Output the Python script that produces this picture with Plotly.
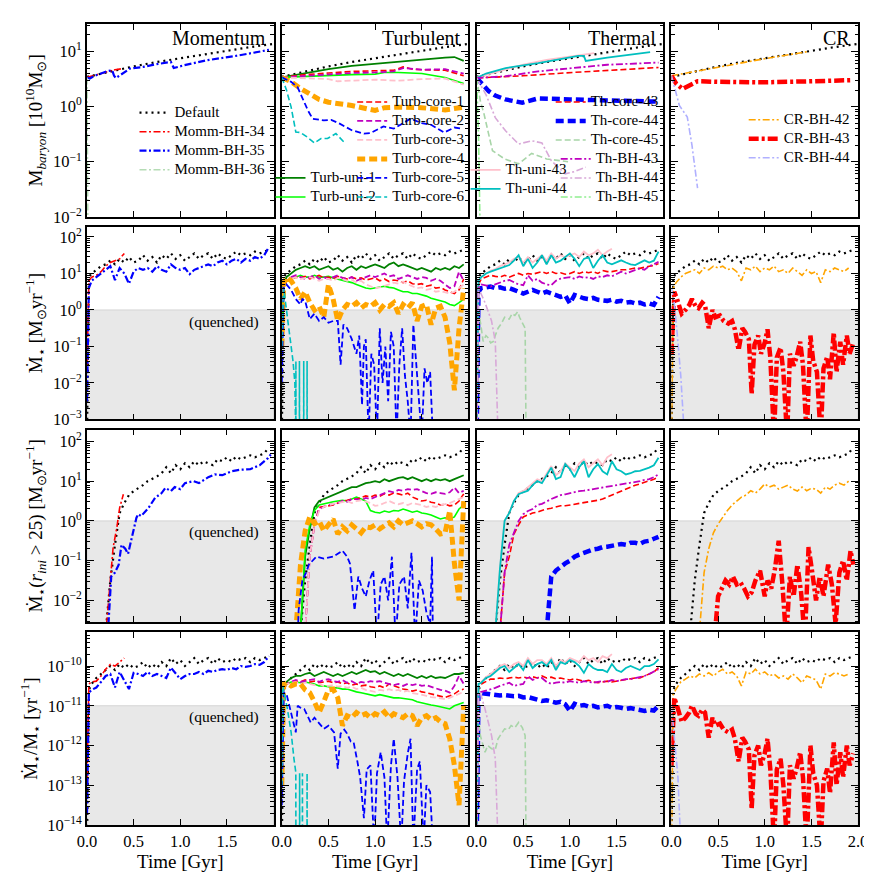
import plotly.graph_objects as go
from plotly.subplots import make_subplots

# all series values are log10 of the plotted quantity

# common time grid [Gyr] for the star formation rows
T = [0.0, 0.02, 0.05, 0.1, 0.15, 0.2, 0.25, 0.3, 0.35, 0.4, 0.45,
     0.5, 0.55, 0.6, 0.65, 0.7, 0.75, 0.8, 0.85, 0.9, 0.95,
     1.0, 1.05, 1.1, 1.15, 1.2, 1.25, 1.3, 1.35, 1.4, 1.45,
     1.5, 1.55, 1.6, 1.65, 1.7, 1.75, 1.8, 1.85, 1.9, 1.95]
T_040 = T[:10]
T_145 = T[:31]
T_190 = T[:40]

# ---- row 1: M_baryon [1e10 Msun] ----
mb_default_t = [0, 0.25, 0.5, 0.75, 1.0, 1.25, 1.5, 1.75, 2.0]
mb_default = [0.54, 0.64, 0.73, 0.81, 0.88, 0.95, 1.02, 1.08, 1.14]
mb_momm34_t = [0, 0.1, 0.2, 0.3, 0.38]
mb_momm34 = [0.53, 0.58, 0.63, 0.67, 0.69]
mb_momm35_t = [0, 0.03, 0.07, 0.15, 0.21, 0.27, 0.29, 0.31, 0.38, 0.46, 0.6, 0.74, 0.9, 0.93, 1.04, 1.28, 1.63, 1.95]
mb_momm35 = [0.53, 0.51, 0.55, 0.6, 0.64, 0.66, 0.56, 0.52, 0.6, 0.69, 0.72, 0.77, 0.81, 0.70, 0.75, 0.84, 0.93, 1.03]
mb_momm36_t = [0, 0.005, 0.01]
mb_momm36 = [0.53, -0.5, -2.5]

mb_uni1_t = [0, 0.25, 0.5, 0.75, 1.0, 1.25, 1.5, 1.75, 1.85, 1.95]
mb_uni1 = [0.53, 0.61, 0.68, 0.74, 0.78, 0.81, 0.85, 0.89, 0.9, 0.83]
mb_uni2_t = [0, 0.25, 0.5, 0.75, 1.0, 1.1, 1.25, 1.5, 1.75, 1.95]
mb_uni2 = [0.53, 0.55, 0.57, 0.58, 0.59, 0.62, 0.62, 0.6, 0.53, 0.42]
mb_core1_t = [0, 0.25, 0.5, 0.75, 1.0, 1.2, 1.3, 1.4, 1.5, 1.75, 1.95]
mb_core1 = [0.53, 0.58, 0.61, 0.64, 0.65, 0.66, 0.72, 0.68, 0.67, 0.66, 0.56]
mb_core2_t = [0, 0.25, 0.5, 0.75, 1.0, 1.2, 1.3, 1.5, 1.75, 1.95]
mb_core2 = [0.53, 0.56, 0.59, 0.61, 0.62, 0.64, 0.7, 0.67, 0.68, 0.6]
mb_core3_t = [0, 0.25, 0.5, 0.6, 0.75, 1.0, 1.25, 1.5, 1.75, 1.95]
mb_core3 = [0.53, 0.51, 0.5, 0.46, 0.47, 0.49, 0.47, 0.5, 0.51, 0.4]
mb_core4_t = [0, 0.1, 0.2, 0.3, 0.4, 0.5, 0.75, 1.0, 1.1, 1.25, 1.5, 1.75, 1.95]
mb_core4 = [0.53, 0.45, 0.33, 0.22, 0.13, 0.08, 0.02, -0.07, -0.02, -0.01, -0.02, -0.06, -0.01]
mb_core5_t = [0, 0.1, 0.17, 0.28, 0.33, 0.45, 0.53, 0.62, 0.75, 0.88, 0.95, 1.02, 1.09, 1.2, 1.3, 1.38, 1.5, 1.6, 1.74, 1.85, 1.94]
mb_core5 = [0.53, 0.45, 0.35, -0.07, -0.22, -0.25, -0.24, -0.31, -0.43, -0.49, -0.48, -0.42, -0.36, -0.4, -0.3, -0.22, -0.3, -0.33, -0.47, -0.38, -0.4]
mb_core6_t = [0, 0.05, 0.1, 0.15, 0.2, 0.27, 0.35, 0.42, 0.49, 0.58, 0.68]
mb_core6 = [0.53, 0.3, -0.01, -0.46, -0.47, -0.55, -0.66, -0.58, -0.58, -0.49, -0.67]

mb_thuni43_t = [0, 0.25, 0.5, 0.75, 1.0, 1.26]
mb_thuni43 = [0.53, 0.65, 0.76, 0.85, 0.91, 0.97]
mb_thuni44_t = [0, 0.1, 0.31, 0.66, 1.09, 1.15, 1.17, 1.25, 1.4, 1.86]
mb_thuni44 = [0.52, 0.6, 0.70, 0.79, 0.92, 0.92, 0.83, 0.85, 0.89, 0.99]
mb_thbh43_t = [0, 0.3, 0.66, 1.0, 1.4, 1.95]
mb_thbh43 = [0.52, 0.55, 0.64, 0.70, 0.76, 0.80]
mb_thcore43_t = [0, 0.5, 1.03, 1.5, 1.95]
mb_thcore43 = [0.52, 0.56, 0.62, 0.67, 0.71]
mb_thcore44_t = [0, 0.05, 0.13, 0.2, 0.31, 0.49, 0.66, 1.0, 1.4, 1.95]
mb_thcore44 = [0.52, 0.42, 0.28, 0.2, 0.13, 0.07, 0.15, 0.13, 0.11, 0.09]
mb_thbh44_t = [0, 0.1, 0.2, 0.31, 0.45, 0.59, 0.7, 0.8, 0.95, 1.05, 1.17]
mb_thbh44 = [0.52, 0.22, -0.2, -0.44, -0.68, -0.62, -0.66, -0.98, -1.22, -1.18, -1.1]
mb_thcore45_t = [0, 0.04, 0.08, 0.17, 0.3, 0.45, 0.59, 0.75, 0.98]
mb_thcore45 = [0.52, 0.1, -0.14, -0.8, -0.95, -1.04, -0.85, -0.95, -1.0]
mb_thbh45_t = [0, 0.02, 0.04]
mb_thbh45 = [0.52, -0.5, -2.5]

mb_cr42_t = [0, 0.5, 1.0, 1.47]
mb_cr42 = [0.56, 0.72, 0.87, 1.0]
mb_cr43_t = [0, 0.05, 0.12, 0.2, 0.28, 0.5, 0.98, 1.5, 1.92]
mb_cr43 = [0.56, 0.42, 0.32, 0.38, 0.46, 0.45, 0.44, 0.46, 0.48]
mb_cr44_t = [0, 0.04, 0.085, 0.17, 0.22, 0.28]
mb_cr44 = [0.56, 0.3, 0.02, -0.19, -0.7, -1.48]

# ---- row 2: SFR [Msun/yr] ----
sfr_default = [-3.5, 0.9, 1.0, 1.1, 1.2, 1.25, 1.35, 1.25, 1.4, 1.3, 1.45,
               1.3, 1.35, 1.5, 1.35, 1.45, 1.3, 1.5, 1.4, 1.55, 1.4,
               1.5, 1.35, 1.45, 1.55, 1.4, 1.5, 1.55, 1.4, 1.55, 1.45,
               1.4, 1.5, 1.6, 1.5, 1.55, 1.5, 1.6, 1.55, 1.6, 1.65]
sfr_momm34 = [-1.5, 0.8, 0.9, 0.95, 1.05, 1.2, 1.3, 1.35, 1.4, 1.55]
sfr_momm35 = [-2.5, 0.6, 0.8, 0.9, 1.0, 1.1, 1.2, 0.82, 1.15, 1.0, 0.72,
              1.05, 1.15, 1.1, 1.15, 1.05, 1.2, 1.1, 1.05, 1.25, 1.15,
              1.1, 1.15, 0.98, 1.1, 1.15, 1.2, 1.25, 1.2, 1.3, 1.35,
              1.25, 1.35, 1.4, 1.3, 1.4, 1.35, 1.45, 1.4, 1.5, 1.72]
sfr_uni1 = [-1.0, 0.7, 0.9, 1.0, 1.1, 1.15, 1.2, 1.15, 1.2, 1.1, 1.15,
            1.2, 1.1, 1.15, 1.05, 1.15, 1.2, 1.1, 1.2, 1.15, 1.2,
            1.25, 1.2, 1.15, 1.25, 1.3, 1.2, 1.25, 1.2, 1.15, 1.1,
            1.15, 1.1, 1.05, 1.15, 1.1, 1.15, 1.1, 1.2, 1.15, 1.25]
sfr_uni2 = [-1.0, 0.6, 0.8, 0.85, 0.9, 0.95, 0.9, 0.9, 0.95, 0.9, 0.9,
            0.92, 0.88, 0.85, 0.82, 0.8, 0.75, 0.7, 0.65, 0.6, 0.58,
            0.6, 0.62, 0.65, 0.62, 0.6, 0.55, 0.5, 0.5, 0.45, 0.45,
            0.42, 0.38, 0.32, 0.28, 0.25, 0.22, 0.15, 0.12, 0.2, 0.3]
sfr_core1 = [-1.0, 0.6, 0.8, 0.85, 0.9, 0.88, 0.92, 0.85, 0.9, 0.95, 0.88,
             0.9, 0.85, 0.92, 0.88, 0.85, 0.9, 0.85, 0.88, 0.82, 0.85,
             0.88, 0.8, 0.85, 0.78, 0.82, 0.8, 0.75, 0.8, 0.72, 0.7,
             0.72, 0.65, 0.68, 0.6, 0.62, 0.55, 0.5, 0.45, 0.55, 0.85]
sfr_core2 = [-1.0, 0.6, 0.8, 0.9, 0.95, 0.9, 0.85, 0.9, 0.95, 0.85, 0.9,
             0.85, 0.9, 0.95, 0.88, 0.85, 0.9, 0.8, 0.85, 0.9, 0.95,
             0.9, 0.95, 1.0, 0.92, 0.95, 0.85, 0.9, 0.95, 0.9, 0.85,
             0.9, 0.88, 0.8, 0.85, 0.8, 0.7, 0.6, 0.65, 1.05, 0.8]
sfr_core3 = [-1.0, 0.6, 0.8, 0.85, 0.9, 0.85, 0.88, 0.9, 0.85, 0.8, 0.85,
             0.85, 0.8, 0.88, 0.85, 0.8, 0.82, 0.75, 0.8, 0.7, 0.65,
             0.6, 0.62, 0.65, 0.7, 0.75, 0.72, 0.78, 0.7, 0.65, 0.6,
             0.62, 0.55, 0.58, 0.5, 0.52, 0.48, 0.45, 0.5, 0.6, 0.7]
sfr_core4 = [-1.0, 0.7, 0.9, 0.8, 0.6, 0.3, 0.5, 0.2, 0.0, 0.1, -0.2,
             0.7, 0.3, -0.3, 0.0, 0.15, 0.1, 0.2, 0.05, 0.15, 0.1,
             0.2, 0.0, 0.15, 0.1, 0.2, -0.1, 0.15, 0.05, 0.2, -0.3,
             0.1, 0.15, -0.4, 0.05, 0.1, -0.2, -0.9, -2.2, -0.5, 0.6]
sfr_core5_t = [0, 0.02, 0.05, 0.1, 0.15, 0.2, 0.22, 0.25, 0.3, 0.35,
               0.4, 0.45, 0.5, 0.55, 0.6, 0.63, 0.66, 0.7, 0.75, 0.8,
               0.83, 0.86, 0.88, 0.9, 0.93, 0.96, 0.99, 1.02, 1.05, 1.08,
               1.11, 1.14, 1.17, 1.2, 1.23, 1.26, 1.29, 1.32, 1.35, 1.38,
               1.41, 1.44, 1.47, 1.5, 1.53, 1.56, 1.59, 1.62]
sfr_core5 = [-2.0, 0.6, 0.7, 0.55, 0.3, 0.15, 0.3, 0.25, -0.25, -0.1,
             -0.3, -0.2, -0.35, -0.3, -0.3, -1.5, -0.4, -0.5, -0.8, -1.2,
             -0.7, -2.6, -1.0, -0.8, -3.5, -1.2, -1.5, -3.5, -0.5, -2.0,
             -1.0, -2.5, -0.6, -1.0, -3.5, -1.5, -0.5, -1.8, -2.5, -3.5,
             -0.4, -1.6, -2.5, -3.5, -1.6, -2.0, -1.7, -3.5]
sfr_core6_t = [0, 0.02, 0.05, 0.08, 0.1, 0.12, 0.14, 0.15, 0.151, 0.152,
               0.188, 0.189, 0.19, 0.234, 0.235, 0.236, 0.27, 0.271, 0.272]
sfr_core6 = [-1.0, 0.6, 0.0, -0.6, -1.0, -1.4, -2.0, -3.5, -1.4, -3.5,
             -3.5, -1.4, -3.5, -3.5, -1.4, -3.5, -3.5, -1.4, -3.5]

sfr_thuni44 = [-3.5, 0.8, 0.9, 1.0, 1.05, 1.1, 1.15, 1.2, 1.23, 1.35, 1.5,
               1.2, 1.4, 1.15, 1.3, 1.5, 1.25, 1.5, 1.3, 1.35, 1.45,
               1.55, 1.4, 1.2, 1.4, 1.45, 1.15, 1.35, 1.5, 1.3, 1.25,
               1.3, 1.36, 1.3, 1.25, 1.23, 1.3, 1.36, 1.3, 1.35, 1.6]
sfr_thuni43 = [-3.5, 0.8, 0.9, 1.0, 1.08, 1.12, 1.2, 1.25, 1.3, 1.4, 1.45,
               1.3, 1.45, 1.3, 1.4, 1.5, 1.35, 1.55, 1.4, 1.5, 1.45,
               1.5, 1.55, 1.45, 1.6, 1.5, 1.55, 1.65, 1.5, 1.6, 1.68]
sfr_thbh43 = [-3.5, 0.6, 0.7, 0.68, 0.64, 0.7, 0.75, 0.8, 0.82, 0.75, 0.7,
              0.68, 0.95, 0.8, 0.85, 0.75, 0.7, 0.68, 0.8, 0.86, 0.88,
              0.9, 0.85, 0.92, 0.88, 0.9, 0.85, 0.92, 0.9, 0.95, 0.92,
              0.98, 1.05, 1.0, 1.05, 1.1, 1.14, 1.1, 1.2, 1.25, 1.32]
sfr_thcore43 = [-3.5, 0.7, 0.85, 0.9, 0.95, 0.92, 0.9, 0.95, 0.9, 0.95, 1.0,
                0.95, 1.0, 0.98, 1.02, 1.05, 1.0, 1.05, 1.0, 1.02, 0.98,
                1.0, 1.05, 1.0, 1.05, 1.02, 1.05, 1.0, 1.08, 1.05, 1.05,
                1.08, 1.1, 1.1, 1.12, 1.15, 1.14, 1.18, 1.2, 1.22, 1.27]
sfr_thcore44 = [-3.5, 0.5, 0.6, 0.62, 0.64, 0.6, 0.62, 0.58, 0.6, 0.55, 0.5,
                0.45, 0.5, 0.55, 0.5, 0.45, 0.5, 0.45, 0.38, 0.36, 0.4,
                0.18, 0.41, 0.35, 0.32, 0.3, 0.33, 0.28, 0.27, 0.25, 0.28,
                0.23, 0.25, 0.2, 0.22, 0.18, 0.2, 0.15, 0.18, 0.14, 0.36]
sfr_thcore45_t = [0, 0.02, 0.05, 0.07, 0.1, 0.12, 0.15, 0.18, 0.2, 0.23,
                  0.27, 0.3, 0.35, 0.38, 0.41, 0.44, 0.46, 0.5, 0.52, 0.53]
sfr_thcore45 = [0.5, 0.0, -0.5, -0.86, -0.7, -0.75, -0.9, -0.86, -0.7, -0.5,
                -0.35, -0.2, -0.25, -0.1, -0.15, -0.05, -0.2, -0.4, -0.5, -3.5]
sfr_thbh44_t = [0, 0.02, 0.09, 0.16, 0.2, 0.23]
sfr_thbh44 = [-3.5, 0.6, 0.2, -0.3, -0.86, -3.5]

sfr_cr42 = [-3.5, 0.6, 0.75, 0.9, 1.0, 1.05, 1.1, 1.0, 1.15, 1.1, 1.2,
            1.15, 1.2, 1.1, 1.15, 1.05, 0.8, 1.15, 1.1, 1.2, 1.05,
            1.15, 1.1, 1.2, 1.05, 1.1, 1.0, 1.15, 1.05, 0.95, 1.1,
            1.0, 1.05, 0.75, 1.1, 1.05, 1.15, 1.1, 1.05, 1.15]
cr43_t = [0, 0.03, 0.06, 0.08, 0.11, 0.15, 0.19, 0.22, 0.26, 0.29,
          0.33, 0.36, 0.4, 0.44, 0.47, 0.52, 0.56, 0.61, 0.65, 0.68,
          0.72, 0.76, 0.79, 0.83, 0.86, 0.89, 0.93, 0.96, 1.0, 1.03,
          1.06, 1.1, 1.13, 1.17, 1.2, 1.24, 1.27, 1.31, 1.34, 1.38,
          1.41, 1.45, 1.49, 1.52, 1.56, 1.6, 1.63, 1.67, 1.7, 1.74,
          1.77, 1.81, 1.84, 1.88, 1.91, 1.95]
sfr_cr43 = [-1.2, 0.5, 0.3, 0.13, -0.1, 0.0, 0.13, 0.3, 0.1, 0.05,
            0.2, 0.13, -0.5, 0.0, -0.2, -0.15, -0.3, -0.37, -0.3, -0.53,
            -1.1, -0.5, -0.6, -0.8, -2.3, -0.95, -0.7, -1.2, -0.9, -0.53,
            -1.3, -3.5, -1.3, -1.03, -1.7, -3.5, -1.2, -1.53, -1.3, -0.87,
            -1.5, -3.5, -0.7, -1.4, -1.7, -3.5, -1.6, -1.28, -1.9, -0.62,
            -1.7, -0.87, -1.5, -0.7, -1.2, -0.9]
sfr_cr44_t = [0, 0.03, 0.06, 0.1, 0.14]
sfr_cr44 = [0.6, 0.2, -0.6, -1.8, -3.5]

# ---- row 3: SFR of stars with r_ini > 25 [Msun/yr] ----
N = None
sfr25_default = [N, N, N, N, N, -2.8, -1.5, -0.6, 0.2, 0.45, 0.65,
                 0.75, 0.82, 0.9, 1.0, 1.05, 1.12, 1.2, 1.35, 1.2, 1.4,
                 1.3, 1.45, 1.35, 1.5, 1.4, 1.5, 1.45, 1.4, 1.55, 1.5,
                 1.6, 1.5, 1.62, 1.55, 1.6, 1.65, 1.6, 1.65, 1.7, 1.85]
sfr25_momm34_t = [0.21, 0.25, 0.28, 0.32, 0.35, 0.39]
sfr25_momm34 = [-2.6, -1.5, -0.67, -0.17, 0.33, 0.67]
sfr25_momm35_t = [0.23, 0.26, 0.3, 0.34, 0.37, 0.41, 0.44, 0.5, 0.53, 0.55,
                  0.58, 0.66, 0.73, 0.8, 0.84, 0.9, 0.94, 1.0, 1.05, 1.14,
                  1.2, 1.3, 1.37, 1.45, 1.55, 1.65, 1.75, 1.85, 1.94, 1.97]
sfr25_momm35 = [-2.6, -1.4, -1.3, -1.1, -0.6, -0.7, -0.83, -0.25, 0.08, 0.17,
                0.12, 0.33, 0.58, 0.7, 0.83, 0.75, 0.85, 0.8, 0.95, 1.0,
                0.95, 1.1, 1.17, 1.15, 1.25, 1.29, 1.3, 1.4, 1.58, 1.67]
sfr25_uni1 = [N, N, N, N, N, -2.8, -0.9, -0.2, 0.34, 0.5, 0.55,
              0.6, 0.65, 0.7, 0.75, 0.8, 0.85, 0.85, 0.9, 0.95, 0.97,
              1.0, 0.97, 1.05, 1.0, 1.05, 1.08, 1.1, 1.05, 1.1, 1.05,
              1.0, 1.05, 1.0, 1.05, 1.02, 1.05, 1.0, 1.05, 1.1, 1.15]
sfr25_uni2 = [N, N, N, N, N, -2.8, -0.75, -0.1, 0.26, 0.4, 0.43,
              0.45, 0.48, 0.5, 0.52, 0.5, 0.55, 0.6, 0.55, 0.5, 0.26,
              0.22, 0.2, 0.25, 0.22, 0.26, 0.25, 0.3, 0.26, 0.22, 0.25,
              0.2, 0.18, 0.15, 0.1, 0.05, 0.08, 0.05, 0.1, 0.3, 0.4]
sfr25_core1 = [N, N, N, N, N, N, -2.8, -0.9, -0.1, 0.34, 0.36,
               0.38, 0.4, 0.45, 0.5, 0.52, 0.55, 0.55, 0.6, 0.63, 0.6,
               0.65, 0.62, 0.68, 0.65, 0.7, 0.68, 0.65, 0.7, 0.6, 0.55,
               0.5, 0.52, 0.47, 0.45, 0.4, 0.42, 0.38, 0.4, 0.5, 0.68]
sfr25_core2 = [N, N, N, N, N, N, -2.8, -0.9, -0.1, 0.3, 0.35,
               0.4, 0.42, 0.45, 0.5, 0.48, 0.55, 0.55, 0.52, 0.58, 0.55,
               0.6, 0.65, 0.7, 0.75, 0.72, 0.78, 0.76, 0.8, 0.78, 0.8,
               0.75, 0.7, 0.68, 0.72, 0.7, 0.68, 0.72, 0.84, 0.7, 0.76]
sfr25_core3 = [N, N, N, N, N, N, -2.8, -0.9, -0.1, 0.25, 0.35,
               0.4, 0.43, 0.45, 0.48, 0.5, 0.45, 0.5, 0.52, 0.48, 0.45,
               0.38, 0.4, 0.45, 0.5, 0.45, 0.42, 0.45, 0.4, 0.45, 0.42,
               0.4, 0.35, 0.38, 0.35, 0.4, 0.42, 0.45, 0.5, 0.55, 0.6]
sfr25_core4 = [N, N, N, N, -2.8, -1.1, -0.25, 0.1, -0.07, 0.0, -0.25,
               -0.1, 0.05, -0.33, -0.15, -0.25, -0.1, -0.2, -0.3, -0.15, -0.17,
               -0.1, -0.2, -0.12, -0.05, -0.15, 0.0, -0.1, -0.05, 0.0, -0.07,
               -0.15, -0.07, -0.1, -0.2, -0.33, -0.3, 0.26, -1.07, -2.0, 0.5]
sfr25_core5_t = [0.17, 0.18, 0.22, 0.26, 0.29, 0.33, 0.37, 0.45, 0.55, 0.65,
                 0.7, 0.73, 0.78, 0.82, 0.86, 0.9, 0.94, 0.98, 1.02, 1.06,
                 1.1, 1.14, 1.18, 1.22, 1.26, 1.31, 1.35, 1.39, 1.43, 1.47,
                 1.51, 1.55, 1.59, 1.61, 1.62]
sfr25_core5 = [-3.0, -2.25, -1.5, -1.3, -1.1, -1.0, -0.9, -0.95, -0.9, -0.75,
               -0.9, -1.07, -2.25, -1.4, -1.7, -1.9, -1.5, -1.25, -3.0, -1.6,
               -1.4, -2.0, -0.9, -3.0, -1.6, -1.4, -2.2, -0.8, -3.0, -1.5,
               -1.75, -2.3, -2.6, -0.9, -3.0]

sfr25_thuni44 = [N, N, N, N, N, -2.8, -1.2, 0.0, 0.2, 0.5, 0.67,
                 0.72, 0.76, 0.9, 1.0, 0.95, 1.15, 1.34, 1.05, 1.1, 1.43,
                 1.3, 1.1, 1.35, 1.5, 1.1, 1.3, 1.43, 1.25, 1.17, 1.5,
                 1.3, 1.25, 1.17, 1.2, 1.25, 1.26, 1.3, 1.34, 1.4, 1.59]
sfr25_thuni43 = [N, N, N, N, N, -2.8, -1.2, 0.0, 0.2, 0.5, 0.7,
                 0.75, 0.85, 0.95, 1.05, 1.0, 1.2, 1.38, 1.15, 1.25, 1.45,
                 1.35, 1.25, 1.45, 1.55, 1.35, 1.45, 1.55, 1.4, 1.6, 1.68]
sfr25_thbh43 = [N, N, N, N, N, N, -2.8, -1.3, -0.6, -0.3, 0.0,
                0.17, 0.25, 0.3, 0.4, 0.43, 0.5, 0.55, 0.6, 0.65, 0.67,
                0.7, 0.72, 0.75, 0.76, 0.78, 0.8, 0.82, 0.84, 0.86, 0.88,
                0.9, 0.92, 0.93, 0.95, 0.97, 1.0, 1.03, 1.05, 1.1, 1.17]
sfr25_thcore43 = [N, N, N, N, N, N, -2.8, -1.3, -0.9, -0.33, -0.1,
                  0.1, 0.15, 0.2, 0.22, 0.26, 0.3, 0.32, 0.35, 0.38, 0.38,
                  0.4, 0.42, 0.43, 0.45, 0.48, 0.5, 0.52, 0.55, 0.6, 0.65,
                  0.7, 0.75, 0.8, 0.85, 0.9, 0.93, 0.97, 1.0, 1.05, 1.1]
sfr25_thcore44 = [N, N, N, N, N, N, N, N, N, N, N,
                  N, N, N, N, N, -2.8, -1.4, -1.25, -1.15, -1.07,
                  -1.0, -0.9, -0.85, -0.8, -0.75, -0.72, -0.7, -0.66, -0.65, -0.62,
                  -0.6, -0.58, -0.6, -0.55, -0.55, -0.58, -0.52, -0.5, -0.45, -0.4]

sfr25_cr42 = [N, N, N, N, N, N, N, -2.8, -1.3, -0.7, -0.3,
              -0.08, 0.1, 0.26, 0.4, 0.5, 0.6, 0.65, 0.76, 0.7, 0.8,
              0.93, 0.85, 0.9, 0.8, 0.85, 0.9, 0.8, 0.75, 0.85, 0.76,
              0.82, 0.8, 0.7, 0.85, 0.8, 0.9, 0.95, 0.9, 1.0]
sfr25_cr43_t = [0.46, 0.5, 0.54, 0.58, 0.62, 0.66, 0.7, 0.74, 0.78, 0.82,
                0.86, 0.9, 0.95, 1.0, 1.03, 1.07, 1.11, 1.15, 1.19, 1.23,
                1.27, 1.31, 1.35, 1.39, 1.43, 1.47, 1.51, 1.55, 1.59, 1.63,
                1.68, 1.72, 1.76, 1.8, 1.84, 1.88, 1.92, 1.95]
sfr25_cr43 = [-3.0, -1.9, -1.7, -1.5, -1.6, -1.4, -1.6, -1.55, -1.7, -1.9,
              -1.8, -1.5, -1.25, -1.9, -1.5, -1.7, -1.2, -0.5, -1.6, -3.0,
              -1.4, -1.9, -1.1, -1.8, -3.0, -0.66, -1.3, -2.0, -1.4, -1.9,
              -1.1, -1.6, -2.6, -1.3, -1.0, -1.5, -0.75, -1.1]

# ---- row 4: specific SFR [1/yr] ----
ssfr_default = [-14.5, -10.6, -10.45, -10.3, -10.2, -10.1, -10.0, -10.1, -9.95, -10.05, -9.95,
                -10.05, -10.0, -9.9, -10.05, -9.95, -10.05, -9.9, -10.0, -9.8, -9.95,
                -9.85, -10.0, -9.9, -9.8, -9.95, -9.85, -9.8, -9.95, -9.8, -9.9,
                -9.85, -9.9, -9.8, -9.85, -9.8, -9.9, -9.8, -9.85, -9.8, -9.75]
ssfr_momm34 = [-12.8, -10.45, -10.4, -10.38, -10.25, -10.08, -9.96, -10.0, -9.9, -9.8]
ssfr_momm35 = [-13.7, -10.67, -10.6, -10.54, -10.4, -10.25, -10.2, -10.54, -10.15, -10.35, -10.58,
               -10.17, -10.2, -10.25, -10.15, -10.25, -10.2, -10.25, -10.3, -10.04, -10.2,
               -10.33, -10.25, -10.2, -10.2, -10.15, -10.2, -10.12, -10.15, -10.1, -10.08,
               -10.1, -10.05, -10.08, -10.0, -10.02, -10.0, -9.95, -9.97, -9.9, -9.75]
ssfr_uni1 = [-13.0, -10.6, -10.4, -10.3, -10.25, -10.25, -10.2, -10.17, -10.25, -10.2, -10.15,
             -10.2, -10.25, -10.2, -10.25, -10.2, -10.15, -10.2, -10.15, -10.1, -10.15,
             -10.13, -10.2, -10.15, -10.2, -10.25, -10.2, -10.25, -10.2, -10.25, -10.3,
             -10.25, -10.3, -10.25, -10.3, -10.28, -10.3, -10.25, -10.2, -10.2, -10.17]
ssfr_uni2 = [-13.0, -10.6, -10.45, -10.4, -10.4, -10.42, -10.4, -10.42, -10.45, -10.5, -10.5,
             -10.52, -10.55, -10.55, -10.58, -10.58, -10.62, -10.65, -10.67, -10.7, -10.72,
             -10.75, -10.72, -10.75, -10.78, -10.8, -10.8, -10.82, -10.83, -10.85, -10.9,
             -10.93, -10.96, -10.98, -11.0, -11.03, -11.05, -11.08, -11.0, -10.95, -10.92]
ssfr_core1 = [-13.0, -10.6, -10.45, -10.4, -10.38, -10.4, -10.35, -10.4, -10.38, -10.42, -10.4,
              -10.38, -10.42, -10.4, -10.45, -10.42, -10.48, -10.45, -10.5, -10.48, -10.52,
              -10.54, -10.5, -10.55, -10.45, -10.5, -10.55, -10.58, -10.6, -10.63, -10.6,
              -10.65, -10.67, -10.7, -10.72, -10.75, -10.79, -10.75, -10.7, -10.62, -10.58]
ssfr_core2 = [-13.0, -10.6, -10.45, -10.4, -10.35, -10.4, -10.38, -10.35, -10.33, -10.4, -10.35,
              -10.33, -10.38, -10.4, -10.35, -10.42, -10.38, -10.45, -10.4, -10.42, -10.38,
              -10.4, -10.38, -10.42, -10.45, -10.48, -10.45, -10.5, -10.45, -10.48, -10.45,
              -10.5, -10.48, -10.52, -10.55, -10.6, -10.62, -10.67, -10.5, -10.25, -10.45]
ssfr_core3 = [-13.0, -10.6, -10.45, -10.42, -10.4, -10.45, -10.42, -10.45, -10.48, -10.45, -10.5,
              -10.5, -10.48, -10.52, -10.5, -10.55, -10.52, -10.58, -10.55, -10.6, -10.62,
              -10.65, -10.6, -10.62, -10.58, -10.62, -10.6, -10.65, -10.62, -10.68, -10.7,
              -10.72, -10.75, -10.78, -10.8, -10.82, -10.83, -10.8, -10.75, -10.7, -10.65]
ssfr_core4 = [-13.0, -10.46, -10.42, -10.5, -10.45, -10.45, -10.6, -10.67, -10.9, -11.17, -10.9,
              -10.6, -10.58, -10.8, -11.5, -11.25, -11.3, -11.17, -11.25, -11.2, -11.3,
              -11.2, -11.25, -11.15, -11.3, -11.2, -11.25, -11.3, -11.2, -11.25, -11.5,
              -11.3, -11.25, -11.35, -11.3, -11.4, -11.45, -11.83, -12.5, -13.5, -11.0]
ssfr_core5_t = [0, 0.02, 0.05, 0.1, 0.15, 0.17, 0.2, 0.24, 0.28, 0.31,
                0.35, 0.4, 0.45, 0.5, 0.56, 0.6, 0.63, 0.67, 0.7, 0.74,
                0.77, 0.81, 0.84, 0.88, 0.91, 0.95, 0.99, 1.02, 1.06, 1.1,
                1.13, 1.17, 1.2, 1.24, 1.28, 1.31, 1.35, 1.38, 1.41, 1.45,
                1.48, 1.52, 1.55, 1.59, 1.62]
ssfr_core5 = [-13.5, -10.67, -10.7, -11.17, -11.67, -11.0, -11.05, -11.08, -11.3, -11.42,
              -11.3, -11.45, -11.58, -11.5, -11.67, -12.58, -11.7, -11.6, -11.7, -11.9,
              -11.92, -12.4, -12.8, -13.83, -12.6, -12.5, -14.5, -12.7, -12.17, -12.8,
              -14.5, -12.5, -11.83, -12.8, -14.5, -12.9, -12.2, -11.83, -14.5, -12.6,
              -12.4, -14.5, -13.0, -13.17, -14.5]
ssfr_core6_t = [0, 0.01, 0.06, 0.1, 0.13, 0.15, 0.151, 0.19, 0.191, 0.192,
                0.22, 0.221, 0.222, 0.27, 0.271, 0.272]
ssfr_core6 = [-13.0, -10.5, -11.08, -11.67, -12.33, -12.67, -14.5, -14.5, -12.7, -14.5,
              -14.5, -12.7, -14.5, -14.5, -12.7, -14.5]

ssfr_thuni44 = [-14.5, -10.45, -10.42, -10.3, -10.25, -10.15, -10.05, -10.0, -10.15, -10.05, -9.95,
                -10.1, -9.85, -10.05, -9.95, -9.9, -10.0, -9.85, -10.1, -9.9, -9.95,
                -9.85, -9.9, -10.0, -10.17, -9.95, -10.05, -10.1, -10.1, -10.15, -9.95,
                -10.1, -10.15, -10.05, -10.0, -10.05, -10.1, -10.0, -10.0, -9.95, -9.83]
ssfr_thuni43 = [-14.5, -10.45, -10.4, -10.28, -10.2, -10.1, -10.0, -9.95, -10.05, -9.95, -9.9,
                -10.0, -9.8, -9.95, -9.85, -9.85, -9.95, -9.8, -10.0, -9.85, -9.9,
                -9.8, -9.85, -9.9, -9.75, -9.85, -9.8, -9.9, -9.75, -9.8, -9.7]
ssfr_thbh43 = [-14.5, -10.67, -10.65, -10.62, -10.58, -10.55, -10.5, -10.45, -10.42, -10.5, -10.48,
               -10.45, -10.25, -10.35, -10.3, -10.3, -10.4, -10.45, -10.42, -10.4, -10.42,
               -10.38, -10.4, -10.42, -10.38, -10.4, -10.42, -10.4, -10.38, -10.4, -10.35,
               -10.38, -10.35, -10.33, -10.33, -10.3, -10.28, -10.25, -10.2, -10.15, -10.08]
ssfr_thcore43 = [-14.5, -10.5, -10.45, -10.38, -10.33, -10.33, -10.3, -10.32, -10.3, -10.28, -10.3,
                 -10.28, -10.3, -10.27, -10.3, -10.25, -10.3, -10.28, -10.32, -10.3, -10.33,
                 -10.35, -10.32, -10.35, -10.38, -10.36, -10.4, -10.42, -10.4, -10.38, -10.4,
                 -10.38, -10.36, -10.35, -10.33, -10.3, -10.3, -10.25, -10.2, -10.15, -10.04]
ssfr_thcore44 = [-14.5, -10.67, -10.68, -10.7, -10.72, -10.72, -10.74, -10.73, -10.75, -10.76, -10.75,
                 -10.79, -10.78, -10.82, -10.85, -10.88, -10.86, -10.9, -10.92, -10.9, -10.96,
                 -11.13, -10.95, -11.0, -10.98, -11.02, -11.0, -11.04, -11.02, -11.0, -11.05,
                 -11.03, -11.05, -11.08, -11.06, -11.08, -11.1, -11.13, -11.1, -11.12, -11.0]
ssfr_thcore45_t = [0.0, 0.02, 0.04, 0.09, 0.12, 0.16, 0.2, 0.23, 0.27, 0.3,
                   0.34, 0.37, 0.41, 0.45, 0.49, 0.52, 0.53]
ssfr_thcore45 = [-10.8, -11.3, -11.75, -12.17, -12.0, -12.08, -12.1, -11.83, -11.7, -11.58,
                 -11.6, -11.5, -11.55, -11.42, -11.55, -11.75, -14.5]
ssfr_thbh44_t = [0, 0.02, 0.04, 0.09, 0.16, 0.2, 0.23]
ssfr_thbh44 = [-14.5, -10.67, -10.67, -11.08, -11.75, -12.33, -14.5]

ssfr_cr42 = [-14.5, -10.7, -10.58, -10.4, -10.33, -10.25, -10.3, -10.2, -10.25, -10.17, -10.25,
             -10.15, -10.08, -10.2, -10.15, -10.25, -10.5, -10.15, -10.2, -10.08, -10.2,
             -10.15, -10.25, -10.2, -10.3, -10.25, -10.33, -10.2, -10.3, -10.42, -10.25,
             -10.3, -10.35, -10.58, -10.2, -10.25, -10.17, -10.2, -10.25, -10.2]
ssfr_cr43 = [-12.5, -10.8, -11.0, -11.17, -11.4, -11.3, -11.17, -11.0, -11.2, -11.25,
             -11.1, -11.17, -11.8, -11.3, -11.5, -11.45, -11.6, -11.67, -11.6, -11.83,
             -12.4, -11.8, -11.9, -12.1, -13.6, -12.25, -12.0, -12.5, -12.2, -11.83,
             -12.6, -14.5, -12.6, -12.33, -13.0, -14.5, -12.5, -12.83, -12.6, -12.17,
             -12.8, -14.5, -12.0, -12.7, -13.0, -14.5, -12.9, -12.58, -13.2, -11.92,
             -13.0, -12.17, -12.8, -12.0, -12.5, -12.2]
ssfr_cr44_t = [0, 0.04, 0.07, 0.1]
ssfr_cr44 = [-11.0, -12.0, -12.8, -14.5]

# ---------------------------------------------------------------------------
DA = "6px,3px"
DD = "7px,2.5px,2px,2.5px"
styles = {
    "Default": ("black", "2px,4px", 2.2),
    "Momm-BH-34": ("#ff0000", DD, 1.6),
    "Momm-BH-35": ("#0000ff", DD, 2.2),
    "Momm-BH-36": ("#b5dcb5", DD, 1.6),
    "Turb-uni-1": ("#008000", "solid", 1.8),
    "Turb-uni-2": ("#00ff00", "solid", 1.6),
    "Turb-core-1": ("#ff0000", DA, 1.6),
    "Turb-core-2": ("#bf00bf", DA, 1.8),
    "Turb-core-3": ("#ffc0cb", DA, 1.8),
    "Turb-core-4": ("#ffa500", "8px,4px", 5),
    "Turb-core-5": ("#0000ff", DA, 1.8),
    "Turb-core-6": ("#00bfbf", DA, 1.6),
    "Th-core-43": ("#ff0000", DA, 1.6),
    "Th-core-44": ("#0000ff", "8px,4px", 4.5),
    "Th-core-45": ("#a8d5a8", DA, 1.6),
    "Th-uni-43": ("#ffc0cb", "solid", 1.8),
    "Th-uni-44": ("#00bfbf", "solid", 1.8),
    "Th-BH-43": ("#bf00bf", DD, 1.8),
    "Th-BH-44": ("#d8a8d8", DD, 1.6),
    "Th-BH-45": ("#90ee90", DD, 1.6),
    "CR-BH-42": ("#ffa500", DD, 1.6),
    "CR-BH-43": ("#ff0000", "10px,3px,3px,3px", 4.5),
    "CR-BH-44": ("#b0b0ff", DD, 1.6),
}

default_rows = [(mb_default_t, mb_default), (T, sfr_default), (T, sfr25_default), (T, ssfr_default)]

columns = [
    ("Momentum", [
        ("Default", "legend", default_rows),
        ("Momm-BH-34", "legend", [(mb_momm34_t, mb_momm34), (T_040, sfr_momm34),
                                  (sfr25_momm34_t, sfr25_momm34), (T_040, ssfr_momm34)]),
        ("Momm-BH-35", "legend", [(mb_momm35_t, mb_momm35), (T, sfr_momm35),
                                  (sfr25_momm35_t, sfr25_momm35), (T, ssfr_momm35)]),
        ("Momm-BH-36", "legend", [(mb_momm36_t, mb_momm36), None, None, None]),
    ]),
    ("Turbulent", [
        ("Default", None, default_rows),
        ("Turb-uni-1", "legend3", [(mb_uni1_t, mb_uni1), (T, sfr_uni1), (T, sfr25_uni1), (T, ssfr_uni1)]),
        ("Turb-uni-2", "legend3", [(mb_uni2_t, mb_uni2), (T, sfr_uni2), (T, sfr25_uni2), (T, ssfr_uni2)]),
        ("Turb-core-1", "legend2", [(mb_core1_t, mb_core1), (T, sfr_core1), (T, sfr25_core1), (T, ssfr_core1)]),
        ("Turb-core-2", "legend2", [(mb_core2_t, mb_core2), (T, sfr_core2), (T, sfr25_core2), (T, ssfr_core2)]),
        ("Turb-core-3", "legend2", [(mb_core3_t, mb_core3), (T, sfr_core3), (T, sfr25_core3), (T, ssfr_core3)]),
        ("Turb-core-4", "legend2", [(mb_core4_t, mb_core4), (T, sfr_core4), (T, sfr25_core4), (T, ssfr_core4)]),
        ("Turb-core-5", "legend2", [(mb_core5_t, mb_core5), (sfr_core5_t, sfr_core5),
                                    (sfr25_core5_t, sfr25_core5), (ssfr_core5_t, ssfr_core5)]),
        ("Turb-core-6", "legend2", [(mb_core6_t, mb_core6), (sfr_core6_t, sfr_core6),
                                    None, (ssfr_core6_t, ssfr_core6)]),
    ]),
    ("Thermal", [
        ("Default", None, default_rows),
        ("Th-core-43", "legend4", [(mb_thcore43_t, mb_thcore43), (T, sfr_thcore43),
                                   (T, sfr25_thcore43), (T, ssfr_thcore43)]),
        ("Th-core-44", "legend4", [(mb_thcore44_t, mb_thcore44), (T, sfr_thcore44),
                                   (T, sfr25_thcore44), (T, ssfr_thcore44)]),
        ("Th-core-45", "legend4", [(mb_thcore45_t, mb_thcore45), (sfr_thcore45_t, sfr_thcore45),
                                   None, (ssfr_thcore45_t, ssfr_thcore45)]),
        ("Th-uni-43", "legend5", [(mb_thuni43_t, mb_thuni43), (T_145, sfr_thuni43),
                                  (T_145, sfr25_thuni43), (T_145, ssfr_thuni43)]),
        ("Th-uni-44", "legend5", [(mb_thuni44_t, mb_thuni44), (T, sfr_thuni44),
                                  (T, sfr25_thuni44), (T, ssfr_thuni44)]),
        ("Th-BH-43", "legend6", [(mb_thbh43_t, mb_thbh43), (T, sfr_thbh43),
                                 (T, sfr25_thbh43), (T, ssfr_thbh43)]),
        ("Th-BH-44", "legend6", [(mb_thbh44_t, mb_thbh44), (sfr_thbh44_t, sfr_thbh44),
                                 None, (ssfr_thbh44_t, ssfr_thbh44)]),
        ("Th-BH-45", "legend6", [(mb_thbh45_t, mb_thbh45), None, None, None]),
    ]),
    ("CR", [
        ("Default", None, default_rows),
        ("CR-BH-42", "legend7", [(mb_cr42_t, mb_cr42), (T_190, sfr_cr42),
                                 (T_190, sfr25_cr42), (T_190, ssfr_cr42)]),
        ("CR-BH-43", "legend7", [(mb_cr43_t, mb_cr43), (cr43_t, sfr_cr43),
                                 (sfr25_cr43_t, sfr25_cr43), (cr43_t, ssfr_cr43)]),
        ("CR-BH-44", "legend7", [(mb_cr44_t, mb_cr44), (sfr_cr44_t, sfr_cr44),
                                 None, (ssfr_cr44_t, ssfr_cr44)]),
    ]),
]


def lin(v):
    return [None if a is None else 10 ** a for a in v]


def axid(n):
    return "" if n == 1 else str(n)


FONT = "Liberation Serif"
fig = make_subplots(rows=4, cols=4, horizontal_spacing=0.0107, vertical_spacing=0.0125)

for c, (title, entries) in enumerate(columns, start=1):
    for name, leg, rows in entries:
        color, dash, width = styles[name]
        for r, data in enumerate(rows, start=1):
            if data is None:
                continue
            t, v = data
            fig.add_trace(go.Scatter(
                x=t, y=lin(v), mode="lines",
                # larger label text in a compact legend row
                name=f'<span style="font-size:15px">{name}</span>',
                line=dict(color=color, dash=dash, width=width),
                showlegend=(leg is not None and r == 1),
                legend=leg if leg else "legend",
                hoverinfo="skip",
            ), row=r, col=c)
    fig.add_annotation(text=title, xref=f"x{axid(c)} domain", yref=f"y{axid(c)} domain",
                       x=0.97, y=0.995, xanchor="right", yanchor="top",
                       showarrow=False, font=dict(family=FONT, size=20))

# axes
y_ranges = [(-2, 1.5), (-3, 2.28), (-2.55, 2.3), (-14, -9.15)]
y_titles = [
    "M<sub><i>baryon</i></sub> [10<sup>10</sup>M<sub>⊙</sub>]",
    "Ṁ<sub>⋆</sub> [M<sub>⊙</sub>yr<sup>−1</sup>]",
    "Ṁ<sub>⋆</sub>(<i>r<sub>ini</sub></i> > 25) [M<sub>⊙</sub>yr<sup>−1</sup>]",
    "Ṁ<sub>⋆</sub>/M<sub>⋆</sub> [yr<sup>−1</sup>]",
]
quench_level = [None, 1.0, 1.0, 1e-11]
quench_text_y = [None, -0.32, -0.29, -11.27]

for r in range(1, 5):
    lo, hi = y_ranges[r - 1]
    decades = list(range(int(lo) if lo == int(lo) else int(lo) - 1, int(hi) + 2))
    major = [10.0 ** e for e in decades if lo - 1e-9 <= e <= hi]
    major_txt = [f"10<sup>{e}</sup>".replace("-", "−") for e in decades if lo - 1e-9 <= e <= hi]
    minor = [m * 10.0 ** e for e in decades for m in range(2, 10)]
    for c in range(1, 5):
        n = (r - 1) * 4 + c
        xt = [0, 0.5, 1.0, 1.5, 2.0] if c == 4 else [0, 0.5, 1.0, 1.5]
        fig.update_xaxes(
            range=[0, 2], tickmode="array", tickvals=xt,
            ticktext=[f"{x:.1f}" for x in xt],
            showticklabels=(r == 4), ticks="inside", ticklen=6, tickwidth=1.2,
            tickcolor="black", mirror="allticks", showline=True, linewidth=1.8,
            linecolor="black", showgrid=False, zeroline=False,
            tickfont=dict(family=FONT, size=16.5),
            row=r, col=c)
        if r == 4:
            fig.update_xaxes(title=dict(text="Time [Gyr]", font=dict(family=FONT, size=19),
                                        standoff=4), row=r, col=c)
        fig.update_yaxes(
            type="log", range=[lo, hi], tickmode="array", tickvals=major,
            ticktext=major_txt, showticklabels=(c == 1),
            ticks="inside", ticklen=7, tickwidth=1.2, tickcolor="black",
            minor=dict(tickmode="array", tickvals=minor, ticks="inside",
                       ticklen=3.5, tickwidth=1, tickcolor="black", showgrid=False),
            mirror="allticks", showline=True, linewidth=1.8, linecolor="black",
            showgrid=False, zeroline=False,
            tickfont=dict(family=FONT, size=16.5),
            row=r, col=c)
        if c == 1:
            fig.update_yaxes(title=dict(text=y_titles[r - 1], font=dict(family=FONT, size=19),
                                        standoff=5), row=r, col=c)
        if quench_level[r - 1] is not None:
            fig.add_shape(type="rect", xref=f"x{axid(n)} domain", yref=f"y{axid(n)}",
                          x0=0, x1=1, y0=10.0 ** (lo - 1), y1=quench_level[r - 1],
                          fillcolor="#e8e8e8", line=dict(color="#d4d4d4", width=1),
                          layer="below")
            if c == 1:
                fig.add_annotation(text="(quenched)", xref=f"x{axid(n)}", yref=f"y{axid(n)}",
                                   x=1.86, y=quench_text_y[r - 1], xanchor="right",
                                   showarrow=False, font=dict(family=FONT, size=15.5))

leg_common = dict(bgcolor="rgba(0,0,0,0)", borderwidth=0, itemwidth=30,
                  font=dict(family=FONT, size=11), tracegroupgap=0)
fig.update_layout(
    width=872, height=872,
    margin=dict(l=79, r=17, t=16, b=53),
    plot_bgcolor="white", paper_bgcolor="white",
    font=dict(family=FONT, size=15, color="black"),
    legend=dict(x=0.238, y=0.80, xanchor="right", yanchor="bottom", **leg_common),
    legend2=dict(x=0.497, y=0.766, xanchor="right", yanchor="bottom", **leg_common),
    legend3=dict(x=0.238, y=0.766, xanchor="left", yanchor="bottom", **leg_common),
    legend4=dict(x=0.748, y=0.837, xanchor="right", yanchor="bottom", **leg_common),
    legend5=dict(x=0.491, y=0.776, xanchor="left", yanchor="bottom", **leg_common),
    legend6=dict(x=0.748, y=0.766, xanchor="right", yanchor="bottom", **leg_common),
    legend7=dict(x=0.997, y=0.815, xanchor="right", yanchor="bottom", **leg_common),
)

fig.write_html("out.html")
